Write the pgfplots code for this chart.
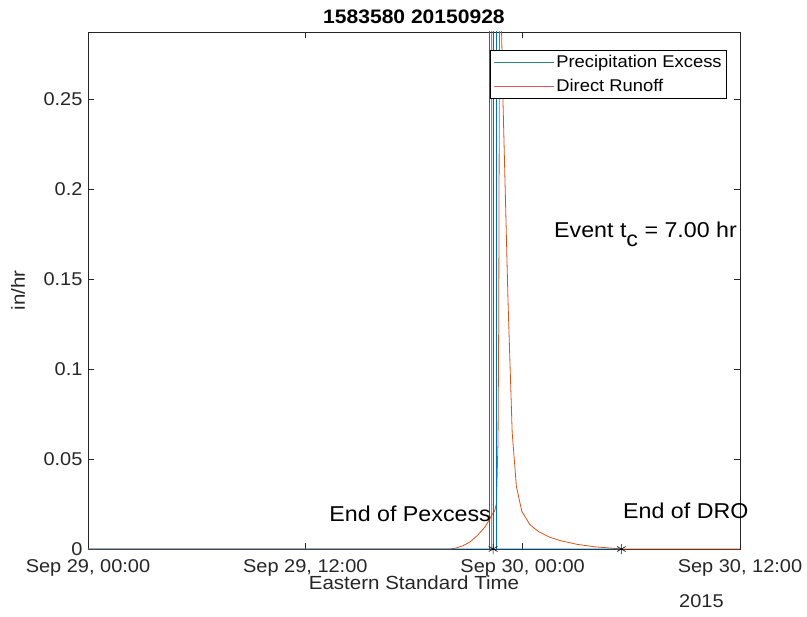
\documentclass[border=0pt]{standalone}
\usepackage{fontspec}
\setmainfont[FakeStretch=1.08]{Liberation Sans}
\usepackage{pgfplots}
\pgfplotsset{compat=1.18}
\definecolor{mblue}{rgb}{0,0.447,0.741}
\definecolor{mred}{rgb}{0.85,0.325,0.098}
\definecolor{leggreen}{RGB}{40,140,110}
\definecolor{legred}{RGB}{225,85,95}
\definecolor{axgray}{rgb}{0.15,0.15,0.15}
\begin{document}
\begin{tikzpicture}
\begin{axis}[
 scale only axis, width=652pt, height=517pt,
 xmin=0, xmax=36, ymin=0, ymax=0.2872,
 xtick={0,12,24,36},
 xticklabels={{Sep 29, 00:00},{Sep 29, 12:00},{Sep 30, 00:00},{Sep 30, 12:00}},
 ytick={0,0.05,0.1,0.15,0.2,0.25},
 yticklabels={0,0.05,0.1,0.15,0.2,0.25},
 tick align=inside, tick pos=both, major tick length=6pt,
 axis line style={axgray, line width=0.6pt},
 tick style={axgray, line width=0.6pt},
 ticklabel style={font=\fontsize{18.5}{18.5}\selectfont, text=axgray},
 xticklabel style={yshift=-7pt},
 yticklabel style={xshift=-2pt},
 xlabel={Eastern Standard Time}, ylabel={in/hr},
 label style={font=\fontsize{19}{19}\selectfont, text=axgray},
 xlabel style={at={(axis description cs:0.5,-0.066)}, anchor=center},
 ylabel style={at={(axis description cs:-0.1074,0.5)}, anchor=center},
 title={1583580 20150928},
 title style={font=\bfseries\fontsize{19.5}{19.5}\selectfont, at={(axis description cs:0.5,1.018)}, anchor=center},
 clip mode=individual,
 legend cell align=left,
 legend style={at={(rel axis cs:0.98,0.965)}, anchor=north east, draw=black, fill=white,
   font=\fontsize{17}{17}\selectfont, inner sep=3pt, row sep=6pt, line width=0.6pt},
 legend image code/.code={\draw[#1] (0pt,0pt) -- (60pt,0pt);},
]
\coordinate (sw) at (rel axis cs:0,0);
\coordinate (ne) at (rel axis cs:1,1);
\addplot[mred, line width=0.8pt, forget plot] coordinates {
(0,0) (20.0,0) (20.3,0.0005) (20.7,0.0018) (21.1,0.004) (21.5,0.0075) (21.9,0.012)
(22.15,0.016) (22.3,0.019) (22.45,0.021) (22.55,0.025) (22.64,0.06) (22.68,0.13)
(22.73,0.34) (22.91,0.25) (23.19,0.138) (23.42,0.065) (23.65,0.035) (23.95,0.021)
(24.4,0.0135) (24.9,0.0095) (25.5,0.0065) (26.1,0.0046) (27.0,0.0026) (28.0,0.0012)
(29.0,0.0004) (29.45,0) (36,0)};
\addplot[mblue, line width=0.8pt, forget plot] coordinates {
(0,0) (22.29,0) (22.3,0.9) (22.55,0.9) (22.56,0) (29.45,0)};
\addplot[gray!70!black, line width=0.7pt, forget plot] coordinates {(22.18,0) (22.18,0.3)};
\addplot[gray!70!black, line width=0.7pt, forget plot] coordinates {(22.40,0) (22.40,0.3)};
\addplot[only marks, mark=asterisk, mark size=5pt, black, line width=0.6pt, forget plot] coordinates {(22.37,0) (29.45,0)};
\addlegendimage{leggreen, line width=0.8pt}
\addlegendentry{Precipitation Excess}
\addlegendimage{legred, line width=0.8pt}
\addlegendentry{Direct Runoff}
\node[anchor=base east, inner sep=0pt, font=\fontsize{21.5}{21.5}\selectfont] at (axis cs:22.25,0.0155) {End of Pexcess};
\node[anchor=base west, inner sep=0pt, font=\fontsize{21.5}{21.5}\selectfont] at (axis cs:29.54,0.0167) {End of DRO};
\node[anchor=base west, inner sep=0pt, font=\fontsize{21.5}{21.5}\selectfont] at (axis cs:25.73,0.1733) {Event t\raisebox{-0.45em}{c} = 7.00 hr};
\node[anchor=base west, inner sep=0pt, xshift=-61pt, yshift=-58pt, font=\fontsize{18.5}{18.5}\selectfont, text=axgray] at (rel axis cs:1,0) {2015};
\end{axis}
\pgfresetboundingbox
\path[use as bounding box] ([xshift=-88pt,yshift=-67pt]sw) rectangle ([xshift=67pt,yshift=32pt]ne);
\end{tikzpicture}
\end{document}
